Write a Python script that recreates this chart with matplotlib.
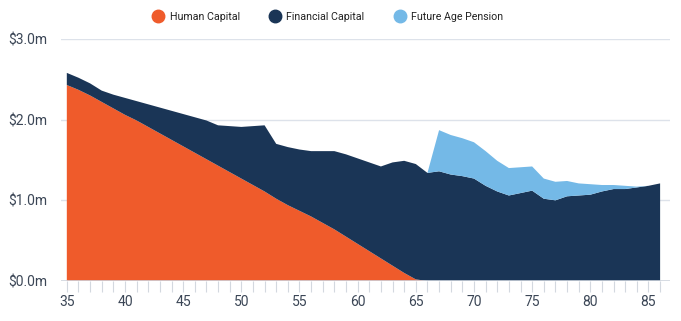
import matplotlib.pyplot as plt
from matplotlib.lines import Line2D

# ages on the x axis
ages = list(range(35, 87))

# values in $m
human_capital = [2.43, 2.37, 2.30, 2.22, 2.14, 2.06, 1.99, 1.91, 1.83, 1.75,
                 1.67, 1.59, 1.51, 1.43, 1.35, 1.27, 1.19, 1.11, 1.02, 0.94,
                 0.87, 0.80, 0.72, 0.64, 0.55, 0.46, 0.37, 0.28, 0.19, 0.10,
                 0.02] + [0.0] * 21
financial_capital = [0.15, 0.15, 0.15, 0.14, 0.17, 0.21, 0.24, 0.28, 0.32, 0.36,
                     0.40, 0.44, 0.48, 0.50, 0.57, 0.64, 0.73, 0.82, 0.68, 0.72,
                     0.76, 0.81, 0.89, 0.97, 1.02, 1.06, 1.10, 1.14, 1.28, 1.39,
                     1.43, 1.34, 1.36, 1.32, 1.30, 1.27, 1.18, 1.11, 1.06, 1.09,
                     1.12, 1.02, 1.00, 1.05, 1.06, 1.07, 1.11, 1.14, 1.14, 1.16,
                     1.18, 1.21]
age_pension = [0.0] * 31 + [0.0, 0.51, 0.49, 0.47, 0.45, 0.43, 0.38, 0.34, 0.32,
                            0.30, 0.25, 0.23, 0.19, 0.15, 0.13, 0.08, 0.05, 0.04,
                            0.01, 0.0, 0.0]

labels = ['Human Capital', 'Financial Capital', 'Future Age Pension']
colors = ['#EF5B2B', '#1A3556', '#74B9E7']
y_ticks = [0, 1, 2, 3]
x_ticks = [35, 40, 45, 50, 55, 60, 65, 70, 75, 80, 85]

plt.rcParams['font.family'] = ['Roboto', 'DejaVu Sans']
text_color = '#3b4656'

fig = plt.figure(figsize=(6.81, 3.21), dpi=100)
ax = fig.add_axes([61 / 681, 1 - 281 / 321, 609 / 681, 242 / 321])

ax.stackplot(ages, human_capital, financial_capital, age_pension,
             colors=colors, linewidth=0, zorder=3)

ax.set_xlim(34.5, 86.85)
ax.set_ylim(0, 3.0)

# grid
for y in y_ticks[1:]:
    ax.axhline(y, color='#dde2ea', linewidth=1, zorder=1)
ax.axhline(0, color='#cfd5de', linewidth=1.2, zorder=4)

for s in ax.spines.values():
    s.set_visible(False)

ax.set_yticks(y_ticks)
ax.set_yticklabels([f'${v:.1f}m' for v in y_ticks])
ax.tick_params(axis='y', length=0, pad=10, labelsize=10, labelcolor=text_color)

ax.set_xticks(x_ticks)
ax.set_xticks(ages, minor=True)
ax.tick_params(axis='x', which='both', length=8, width=0.8, color='#d3d8df',
               labelsize=10, labelcolor=text_color, pad=2)

handles = [Line2D([], [], marker='o', linestyle='', markersize=9,
                  markerfacecolor=c, markeredgecolor=c) for c in colors]
fig.legend(handles, labels, loc='center', bbox_to_anchor=(0.481, 0.947), ncol=3,
           frameon=False, fontsize=7.7, handletextpad=0.45, handlelength=1.2,
           columnspacing=2.7, labelcolor='#222222')

fig.savefig('out.png', dpi=100)
